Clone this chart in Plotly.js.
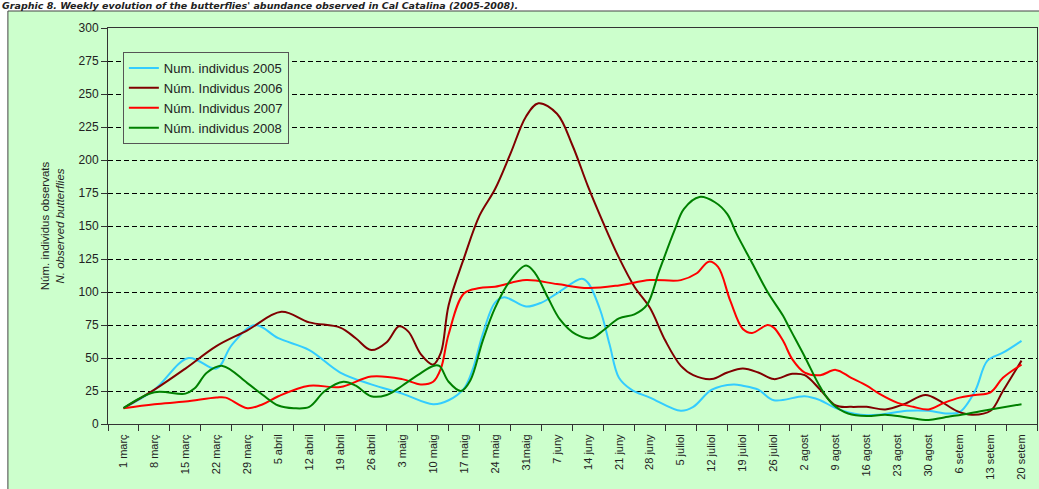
<!DOCTYPE html>
<html>
<head>
<meta charset="utf-8">
<script src="https://cdn.plot.ly/plotly-3.0.1.min.js"></script>
<style>html,body{margin:0;padding:0;background:#fff;}#chart{width:1039px;height:489px;}</style>
</head>
<body>
<div id="chart"></div>
<script>
// Week labels (category index 0..29)
const weeks = ["1 març","8 març","15 març","22 març","29 març","5 abril","12 abril","19 abril","26 abril","3 maig","10 maig","17 maig","24 maig","31maig","7 juny","14 juny","21 juny","28 juny","5 juliol","12 juliol","19 juliol","26 juliol","2 agost","9 agost","16 agost","23 agost","30 agost","6 setem","13 setem","20 setem"];

const seriesNames = ["Num. individus 2005","Núm. Individus 2006","Núm. Individus 2007","Núm. individus 2008"];

const week2005 = [0,1,2.1,3,3.5,4.25,5,6,7,8,9,10,10.5,11,11.3,11.6,12,12.3,13,13.5,14,14.8,15,15.4,15.7,16,16.4,17,18,18.4,19,19.7,20,20.5,21,22,22.5,23,23.8,24.4,25.3,26,26.6,27,27.5,27.9,28.4,29];
const val2005  = [12,26,50,42,60,75,65,56,39,30,23,15,18,27,43,68,92,96,89,92,99,110,107,86,60,35,26,20,10,13,26,30,29,26,18,21,18,12,7,7,10,10,8,9,25,48,54,63];

const week2006 = [0,1,2,3,4,5.1,6,7,7.5,8,8.5,8.9,9.2,9.6,10,10.25,10.5,11,11.5,12,12.5,13,13.4,14,14.5,15,15.5,16,16.5,17,17.5,18,18.4,19,19.5,20,20.5,21,21.6,22,22.5,23,23.5,24,24.6,25.2,25.9,26.4,26.9,27.4,28,28.4,29];
const val2006  = [12,26,42,59,71,85,77,73,65,56,62,74,70,53,45,54,90,126,158,178,205,233,243,235,211,180,152,126,104,88,63,44,37,34,39,42,39,34,38,37,26,14,13,13,11,15,22,17,10,7,10,25,48];

const week2007 = [0,1,2,3,3.3,4,4.5,5,6,7,8,9,9.6,10,10.25,10.5,11,11.5,12,13,14,15,16,17,18,18.5,18.9,19.2,19.6,20,20.3,20.8,21,21.3,21.6,22,22.5,23,23.5,24,24.4,25,25.5,26,26.5,27,27.5,28,28.4,29];
const val2007  = [12,15,17,20,20,12,15,21,29,28,36,34,30,32,42,68,99,103,104,109,106,103,105,109,109,114,123,119,93,72,69,75,73,63,49,39,37,41,35,29,23,16,13,11,16,20,22,24,35,45];

const week2008 = [0,1,2,2.3,2.7,3.2,4,4.5,5,5.5,6,6.5,7.1,7.5,8,8.5,9,9.5,10,10.2,10.5,10.9,11.2,11.6,12,12.5,13,13.3,13.7,14.1,14.6,15.1,15.5,16,16.5,16.9,17.3,17.8,18.1,18.6,19.1,19.5,19.8,20.3,20.8,21.3,21.5,22,22.5,22.9,23.4,24,24.6,25.3,26,26.5,27.3,28,29];
const val2008  = [12,24,23,27,39,44,31,22,14,12,13,25,32,29,21,22,29,37,44,44,32,25,33,63,88,109,120,114,96,79,68,65,71,80,83,90,116,147,163,172,168,159,144,122,100,82,73,51,28,15,8,6,7,5,3,5,8,11,15];

const colors = ["#33ccff","#800000","#ff0000","#008000"];
const xs = [week2005, week2006, week2007, week2008];
const ys = [val2005, val2006, val2007, val2008];

const FONT = "Liberation Sans, Arial, sans-serif";

const traces = seriesNames.map((n, k) => ({
  type: "scatter",
  mode: "lines",
  name: n,
  legendgroup: "g" + k,
  x: xs[k],
  y: ys[k],
  line: {color: colors[k], width: 2, shape: "spline", smoothing: 1},
  hoverinfo: "skip"
}));

const tickPos = weeks.map((_, i) => i);
const bounds = weeks.map((_, i) => i - 0.5).concat([weeks.length - 0.5]);

const layout = {
  width: 1039,
  height: 489,
  margin: {l: 108, r: 2, t: 28, b: 65, pad: 0},
  paper_bgcolor: "#ffffff",
  plot_bgcolor: "#ffffff",
  font: {family: FONT, size: 11, color: "#222"},
  showlegend: true,
  legend: {
    x: 0.016, y: (424 - 52) / 396, xanchor: "left", yanchor: "top",
    bgcolor: "#ccffcc", bordercolor: "#555", borderwidth: 1,
    font: {family: FONT, size: 13, color: "#222"},
    itemwidth: 30, tracegroupgap: 2, traceorder: "normal"
  },
  xaxis: {
    range: [-0.5, weeks.length - 0.5],
    tickmode: "array", tickvals: tickPos, ticktext: weeks,
    tickangle: -90,
    ticks: "outside", ticklen: 5, tickcolor: "rgba(0,0,0,0)",
    tickfont: {family: FONT, size: 11, color: "#222"},
    minor: {tickmode: "array", tickvals: bounds, ticks: "outside", ticklen: 6, tickwidth: 1, tickcolor: "#333", showgrid: false},
    showgrid: false, zeroline: false,
    showline: true, linecolor: "#333", linewidth: 1, mirror: true,
    fixedrange: true
  },
  yaxis: {
    range: [0, 300],
    tickmode: "linear", tick0: 0, dtick: 25,
    ticks: "outside", ticklen: 6, tickcolor: "#333",
    tickfont: {family: FONT, size: 12, color: "#222"},
    showgrid: true, gridcolor: "#000", gridwidth: 1, griddash: "5px,3px",
    zeroline: false,
    showline: true, linecolor: "#333", linewidth: 1, mirror: true,
    title: {text: "Núm. individus observats<br><i>N. observed butterflies</i>", font: {family: FONT, size: 11.5, color: "#222"}, standoff: 11},
    fixedrange: true
  },
  shapes: [{
    type: "rect", xref: "paper", yref: "paper", layer: "below",
    x0: (8 - 108) / 928, x1: 1.05, y0: -0.3, y1: (424 - 11) / 396,
    fillcolor: "#ccffcc", line: {color: "#444", width: 1}
  }],
  annotations: [{
    xref: "paper", yref: "paper", x: (1 - 108) / 928, y: (424 + 1) / 396,
    xanchor: "left", yanchor: "top", showarrow: false, borderpad: 0,
    text: "<b><i>Graphic 8. Weekly evolution of the butterflies' abundance observed in Cal Catalina (2005-2008).</i></b>",
    font: {family: "DejaVu Sans, sans-serif", size: 9.5, color: "#222"}
  }]
};

Plotly.newPlot("chart", traces, layout, {displayModeBar: false, staticPlot: true});
</script>
</body>
</html>
